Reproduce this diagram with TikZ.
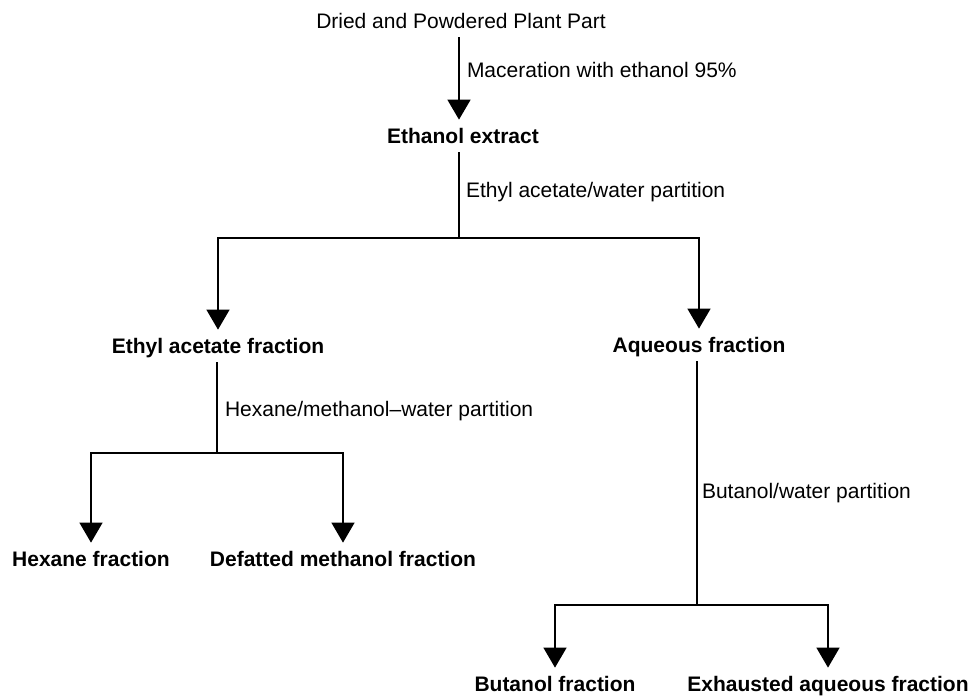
\documentclass[tikz,border=0pt]{standalone}
\usepackage{fontspec}
\setmainfont{Liberation Sans}
\usetikzlibrary{arrows.meta}
\begin{document}
\begin{tikzpicture}[x=0.75pt,y=-0.75pt,
  every node/.style={inner sep=0pt, outer sep=0pt, font=\fontsize{15.75}{18}\selectfont, text height=10.5pt, text depth=3pt},
  prod/.style={font=\fontsize{15.75}{18}\selectfont\bfseries, anchor=base},
  plain/.style={anchor=base},
  lbl/.style={anchor=base west},
  tipstyle/.style={-{Triangle[width=17pt,length=15pt]}, shorten >=7pt},
  arr/.style={line width=2pt, tipstyle, shorten <=4pt},
  bar/.style={line width=1.8pt, tipstyle},
  stem/.style={line width=1.4pt, shorten <=4pt}]
\fill[white] (0,0) rectangle (974,696);
\useasboundingbox (0,0) rectangle (974,696);

% nodes
\node[plain] (dried) at (461,28) {Dried and Powdered Plant Part};
\node[prod] (extract) at (463,143) {Ethanol extract};
\node[prod] (ethyl) at (218,353) {Ethyl acetate fraction};
\node[prod] (aqueous) at (699,352) {Aqueous fraction};
\node[prod] (hexane) at (91,566) {Hexane fraction};
\node[prod] (defatted) at (343,566) {Defatted methanol fraction};
\node[prod] (butanol) at (555,691) {Butanol fraction};
\node[prod] (exhausted) at (828,691) {Exhausted aqueous fraction};

% labels
\node[lbl] (l1) at (467,77) {Maceration with ethanol 95\%};
\node[lbl] (l2) at (466,197) {Ethyl acetate/water partition};
\node[lbl] (l3) at (225,416) {Hexane/methanol--water partition};
\node[lbl] (l4) at (702,498) {Butanol/water partition};

% junctions
\coordinate (s1) at (459,0);
\coordinate (j1) at (459,238);
\coordinate (j2) at (217,453);
\coordinate (j3) at (697,605);

% connectors
\draw[arr] (s1 |- dried.south) -- (s1 |- extract.north);

\draw[stem] (j1 |- extract.south) -- (j1);
\draw[bar] (j1) -| (ethyl.north);
\draw[bar] (j1) -| (aqueous.north);

\draw[stem] (j2 |- ethyl.south) -- (j2);
\draw[bar] (j2) -| (hexane.north);
\draw[bar] (j2) -| (defatted.north);

\draw[stem] (j3 |- aqueous.south) -- (j3);
\draw[bar] (j3) -| (butanol.north);
\draw[bar] (j3) -| (exhausted.north);
\end{tikzpicture}
\end{document}
